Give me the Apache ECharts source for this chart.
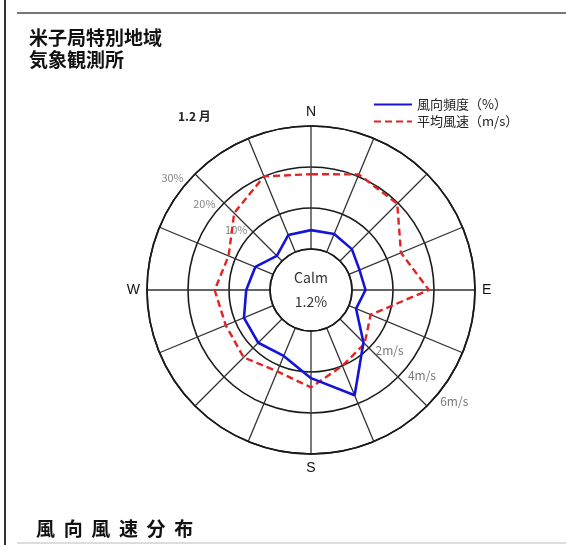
<!DOCTYPE html>
<html>
<head>
<meta charset="utf-8">
<script src="https://cdn.jsdelivr.net/npm/echarts@6/dist/echarts.min.js"></script>
<style>
  html, body { margin: 0; padding: 0; background: #fff; }
  #chart { width: 566px; height: 545px; }
</style>
</head>
<body>
<div id="chart"></div>
<script>
/* ---------------- Data ---------------- */
const directions = ['N', 'NNE', 'NE', 'ENE', 'E', 'ESE', 'SE', 'SSE', 'S', 'SSW', 'SW', 'WSW', 'W', 'WNW', 'NW', 'NNW'];
// wind direction frequency (%)
const frequency = [4.6, 4.8, 4.1, 2.8, 3.3, 1.9, 8.1, 17.8, 11.5, 7.4, 8.2, 7.7, 5.8, 4.7, 1.8, 4.5];
// mean wind speed (m/s)
const meanSpeed = [3.65, 4.1, 3.95, 2.75, 3.75, 1.15, 1.7, 2.0, 2.75, 2.3, 2.65, 2.5, 2.7, 2.35, 3.3, 4.0];
const calmRate = 1.2;
const freqTicks = [10, 20, 30];
const speedTicks = [2, 4, 6];
const compassLabels = { 0: 'N', 90: 'E', 180: 'S', 270: 'W' };

const FREQ_NAME = '風向頻度（%）';
const SPEED_NAME = '平均風速（m/s）';

/* ---------------- Helpers ---------------- */
const step = 360 / directions.length;
const speedToRadius = s => s * 5;   // 2 m/s sits on the 10% ring
const closedLoop = vals => vals.map((v, i) => [v, i * step]).concat([[vals[0], 360]]);

const chart = echarts.init(document.getElementById('chart'));

const option = {
  animation: false,
  textStyle: { fontFamily: '"Noto Sans CJK JP", sans-serif' },
  title: [
    {
      text: '米子局特別地域\n気象観測所',
      left: 24, top: 22,
      textStyle: { fontSize: 19, fontWeight: 'bold', color: '#111', lineHeight: 22 }
    },
    {
      text: '1.2 月',
      left: 173, top: 105,
      textStyle: { fontSize: 12, fontWeight: 'bold', color: '#222' }
    },
    {
      text: '風  向  風  速  分  布',
      left: 31, top: 514,
      textStyle: { fontSize: 19, fontWeight: 'bold', color: '#111' }
    }
  ],
  legend: {
    orient: 'vertical',
    left: 373, top: 98,
    padding: 0,
    itemWidth: 38, itemHeight: 14, itemGap: 4,
    itemStyle: { opacity: 0 },
    textStyle: { fontSize: 13, color: '#222' },
    data: [FREQ_NAME, SPEED_NAME]
  },
  polar: { center: [311, 290], radius: [41, 164] },
  angleAxis: {
    type: 'value',
    min: 0, max: 360, interval: step,
    startAngle: 90, clockwise: true,
    axisLine: { lineStyle: { color: '#1a1a1a', width: 1.6 } },
    axisTick: { show: false },
    axisLabel: {
      margin: 7,
      fontSize: 14,
      color: '#111',
      fontFamily: '"Liberation Sans", Arial, sans-serif',
      formatter: v => compassLabels[v] || ''
    },
    splitLine: { lineStyle: { color: '#333', width: 1.3 } }
  },
  radiusAxis: {
    type: 'value',
    min: 0, max: 30, interval: 10,
    axisLine: { show: false },
    axisTick: { show: false },
    axisLabel: { show: false },
    splitLine: { lineStyle: { color: '#1a1a1a', width: 1.6 } }
  },
  graphic: [
    { type: 'line', shape: { x1: 17, y1: 13, x2: 566, y2: 13 }, style: { stroke: '#777', lineWidth: 2 } },
    { type: 'line', shape: { x1: 5, y1: 0, x2: 5, y2: 545 }, style: { stroke: '#333', lineWidth: 2 } },
    { type: 'line', shape: { x1: 17, y1: 543, x2: 566, y2: 543 }, style: { stroke: '#bbb', lineWidth: 1 } },
    {
      type: 'text', x: 311, y: 278,
      style: { text: 'Calm', fill: '#333', font: '14px "Noto Sans CJK JP"', textAlign: 'center', textVerticalAlign: 'middle' }
    },
    {
      type: 'text', x: 311, y: 302,
      style: { text: calmRate + '%', fill: '#333', font: '14px "Noto Sans CJK JP"', textAlign: 'center', textVerticalAlign: 'middle' }
    }
  ],
  series: [
    {
      name: FREQ_NAME,
      type: 'line',
      coordinateSystem: 'polar',
      symbol: 'none',
      data: closedLoop(frequency),
      lineStyle: { color: '#1414d8', width: 2.6 },
      itemStyle: { color: '#1414d8' },
      z: 5
    },
    {
      name: SPEED_NAME,
      type: 'line',
      coordinateSystem: 'polar',
      symbol: 'none',
      data: closedLoop(meanSpeed.map(speedToRadius)),
      lineStyle: { color: '#e02424', width: 2.4, type: [7, 4] },
      itemStyle: { color: '#e02424' },
      z: 4
    },
    {
      type: 'scatter',
      coordinateSystem: 'polar',
      symbolSize: 0,
      silent: true,
      data: freqTicks.map(t => ({ name: t + '%', value: [t, 309] })),
      label: {
        show: true, position: 'inside', offset: [-11, -9],
        formatter: '{b}', color: '#666', fontSize: 11
      }
    },
    {
      type: 'scatter',
      coordinateSystem: 'polar',
      symbolSize: 0,
      silent: true,
      data: speedTicks.map(s => ({ name: s + 'm/s', value: [speedToRadius(s), 128] })),
      label: {
        show: true, position: 'inside', offset: [14, 10],
        formatter: '{b}', color: '#555', fontSize: 12
      }
    }
  ]
};

chart.setOption(option);
</script>
</body>
</html>
